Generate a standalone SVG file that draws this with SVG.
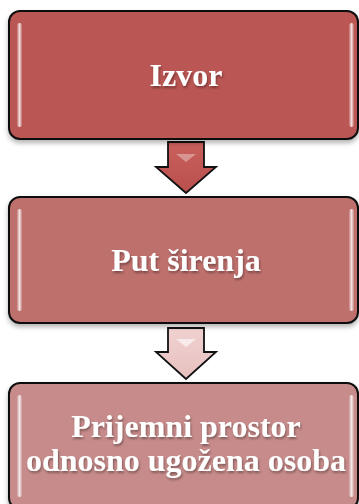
<svg xmlns="http://www.w3.org/2000/svg" width="359" height="504" viewBox="0 0 359 504">
<defs>
  <filter id="sh" x="-10%" y="-10%" width="120%" height="130%">
    <feDropShadow dx="0" dy="3" stdDeviation="2.5" flood-color="#000" flood-opacity="0.3"/>
  </filter>
  <filter id="tsh" x="-10%" y="-20%" width="120%" height="150%">
    <feDropShadow dx="1" dy="2" stdDeviation="1.2" flood-color="#000" flood-opacity="0.35"/>
  </filter>
  <linearGradient id="hl" x1="0" y1="0" x2="1" y2="0">
    <stop offset="0" stop-color="#fff" stop-opacity="0.15"/>
    <stop offset="0.5" stop-color="#fff" stop-opacity="0.8"/>
    <stop offset="1" stop-color="#fff" stop-opacity="0.15"/>
  </linearGradient>
  <linearGradient id="a1" x1="0" y1="0" x2="0" y2="1">
    <stop offset="0" stop-color="#C9605C"/>
    <stop offset="1" stop-color="#B9504D"/>
  </linearGradient>
  <linearGradient id="a2" x1="0" y1="0" x2="0" y2="1">
    <stop offset="0" stop-color="#F0D2D1"/>
    <stop offset="1" stop-color="#E7C0BF"/>
  </linearGradient>
</defs>
<style>
  .box { stroke: #111; stroke-width: 2; filter: url(#sh); }
  .hl { fill: url(#hl); }
  .lbl { font-family: "Liberation Serif", "Times New Roman", serif; font-weight: bold; font-size: 32px; fill: #fff; text-anchor: middle; filter: url(#tsh); }
  .arr { stroke: #111; stroke-width: 1.8; stroke-linejoin: miter; }
</style>
<g id="connectors">
  <path class="arr" fill="url(#a1)" d="M168,142 H204 V167 H216 L186,193 L156,167 H168 Z"/>
  <path d="M176,154 L196,154 L186,162 Z" fill="#fff" opacity="0.35"/>
  <path class="arr" fill="url(#a2)" d="M168,328 H204 V352 H216 L186,379 L156,352 H168 Z"/>
  <path d="M176,339 L196,339 L186,347 Z" fill="#fff" opacity="0.6"/>
</g>
<g id="node1">
  <rect class="box" x="9" y="11" width="349" height="128" rx="11" fill="#BA5752"/>
  <rect class="hl" x="17" y="23" width="5" height="104" rx="2.5"/>
  <rect class="hl" x="349" y="23" width="5" height="104" rx="2.5"/>
  <text class="lbl" x="186" y="86">Izvor</text>
</g>
<g id="node2">
  <rect class="box" x="9" y="197" width="349" height="126" rx="11" fill="#BE6F6D"/>
  <rect class="hl" x="17" y="209" width="5" height="102" rx="2.5"/>
  <rect class="hl" x="349" y="209" width="5" height="102" rx="2.5"/>
  <text class="lbl" x="186" y="271">Put širenja</text>
</g>
<g id="node3">
  <rect class="box" x="9" y="383" width="349" height="126" rx="11" fill="#C68B8A"/>
  <rect class="hl" x="17" y="395" width="5" height="102" rx="2.5"/>
  <rect class="hl" x="349" y="395" width="5" height="102" rx="2.5"/>
  <text class="lbl" x="186" y="437">Prijemni prostor</text>
  <text class="lbl" x="186" y="471">odnosno ugožena osoba</text>
</g>
</svg>
